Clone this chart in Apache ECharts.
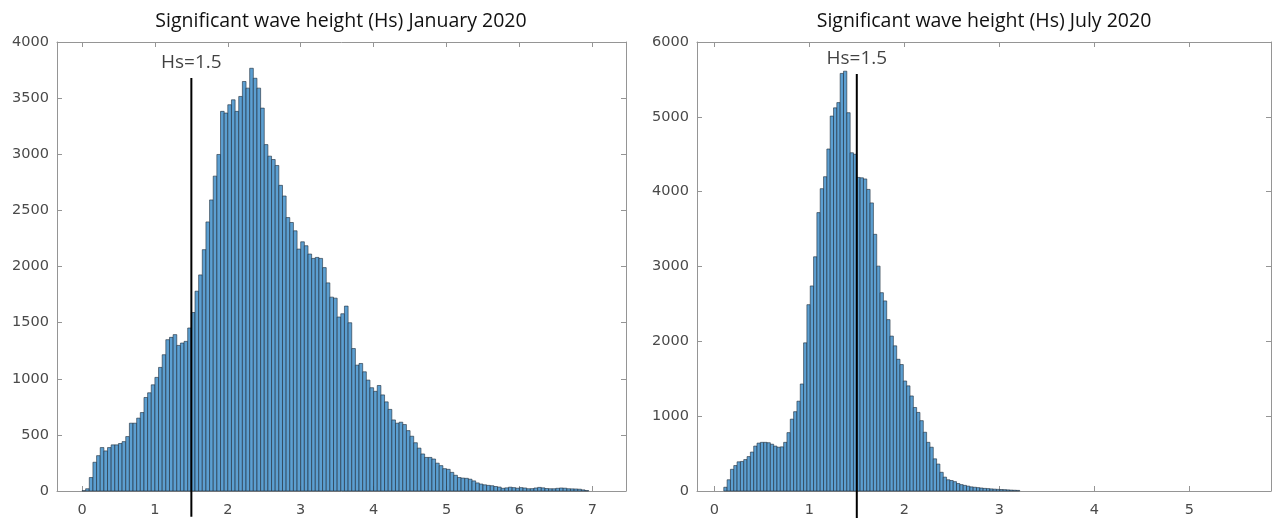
<!DOCTYPE html>
<html><head><meta charset="utf-8">
<script src="https://cdn.jsdelivr.net/npm/echarts@6/dist/echarts.min.js"></script>
<style>html,body{margin:0;padding:0;background:#fff}#c{width:1273px;height:518px}</style>
</head><body><div id="c"></div><script>
const janTitle = 'Significant wave height (Hs) January 2020';
const julTitle = 'Significant wave height (Hs) July 2020';
const hsLabel = 'Hs=1.5';
const hsValue = 1.5;

// January histogram: bins of 0.05 m starting at 0
const janBinStart = 0;
const janBinWidth = 0.05;
const janCounts = [
  3, 20, 120, 256, 315, 387, 357, 387, 411, 411,
  423, 440, 485, 604, 604, 649, 699, 833, 875, 946,
  1012, 1101, 1214, 1348, 1369, 1393, 1297, 1318, 1333, 1452,
  1590, 1780, 1925, 2150, 2397, 2593, 2805, 2998, 3382, 3367,
  3441, 3485, 3382, 3515, 3648, 3589, 3766, 3677, 3589, 3411,
  3086, 2983, 2953, 2900, 2723, 2628, 2436, 2392, 2318, 2155,
  2220, 2185, 2111, 2072, 2081, 2072, 1990, 1854, 1727, 1718,
  1550, 1579, 1647, 1499, 1269, 1121, 1136, 1062, 988, 920,
  888, 940, 856, 794, 727, 633, 604, 613, 592, 538,
  488, 430, 382, 330, 299, 299, 285, 248, 226, 199,
  193, 166, 140, 120, 115, 113, 105, 90, 72, 62,
  55, 50, 47, 40, 35, 24, 28, 34, 30, 25,
  30, 27, 20, 21, 27, 32, 28, 22, 20, 20,
  24, 27, 25, 20, 19, 18, 16, 10, 4
];
const janXTicks = [0, 1, 2, 3, 4, 5, 6, 7];
const janXRange = [-0.343, 7.462];
const janYRange = [0, 4000];
const janYStep = 500;
const janLineSpan = [-230, 3680];

// July histogram: bins of 0.035 m starting at 0.1
const julBinStart = 0.1;
const julBinWidth = 0.035;
const julCounts = [
  50, 150, 290, 340, 390, 395, 420, 460, 520, 600,
  640, 650, 650, 645, 625, 600, 585, 590, 650, 780,
  960, 1060, 1200, 1430, 1980, 2490, 2740, 3130, 3720, 4040,
  4200, 4570, 5010, 5120, 5190, 5580, 5610, 5055, 4520, 4500,
  4190, 4185, 4170, 4030, 3850, 3430, 3005, 2650, 2540, 2290,
  2070, 1940, 1760, 1690, 1470, 1405, 1270, 1116, 1050, 940,
  785, 650, 585, 430, 360, 250, 185, 150, 140, 125,
  100, 85, 75, 65, 55, 50, 45, 40, 35, 32,
  28, 25, 22, 20, 18, 15, 12, 10, 8
];
const julXTicks = [0, 1, 2, 3, 4, 5];
const julXRange = [-0.182, 5.86];
const julYRange = [0, 6000];
const julYStep = 1000;
const julLineSpan = [-360, 5573];

function toBins(start, width, counts) {
  return counts.map((c, i) => [start + i * width, start + (i + 1) * width, c]);
}

const AX = '#959595';
const LBL = { fontFamily: 'DejaVu Sans', fontSize: 14.5, color: '#4a4a4a' };

function renderBar(params, api) {
  const a = api.coord([api.value(0), api.value(2)]);
  const b = api.coord([api.value(1), 0]);
  return {
    type: 'rect',
    shape: { x: a[0], y: a[1], width: b[0] - a[0], height: b[1] - a[1] },
    style: { fill: '#5c9fd1', stroke: '#1c2a38', lineWidth: 0.6 }
  };
}

function xAxes(grid, range, ticks) {
  const base = {
    gridIndex: grid, type: 'value', min: range[0], max: range[1],
    axisLine: { show: true, onZero: false, lineStyle: { color: AX, width: 1 } },
    axisTick: { show: true, inside: true, length: 5, customValues: ticks, lineStyle: { color: AX } },
    splitLine: { show: false }
  };
  return [
    Object.assign({}, base, { position: 'bottom',
      axisLabel: Object.assign({ show: true, margin: 12, customValues: ticks, formatter: v => String(v) }, LBL) }),
    Object.assign({}, base, { position: 'top', axisLabel: { show: false } })
  ];
}
function yAxes(grid, range, step) {
  const base = {
    gridIndex: grid, type: 'value', min: range[0], max: range[1], interval: step,
    axisLine: { show: true, onZero: false, lineStyle: { color: AX, width: 1 } },
    axisTick: { show: true, inside: true, length: 5, lineStyle: { color: AX } },
    splitLine: { show: false }
  };
  return [
    Object.assign({}, base, { position: 'left',
      axisLabel: Object.assign({ show: true, margin: 8, formatter: v => String(v) }, LBL) }),
    Object.assign({}, base, { position: 'right', axisLabel: { show: false } })
  ];
}

const hsLabelStyle = { show: true, position: 'top', distance: 5, formatter: hsLabel,
  fontFamily: 'Open Sans', fontSize: 19, color: '#111' };
const titleStyle = { fontFamily: 'Open Sans', fontSize: 19.5, fontWeight: 'normal', color: '#111' };

const chart = echarts.init(document.getElementById('c'), null, { renderer: 'canvas' });
chart.setOption({
  animation: false,
  backgroundColor: '#fff',
  title: [
    { text: janTitle, left: 341, top: 11, padding: 0, textAlign: 'center', textStyle: titleStyle },
    { text: julTitle, left: 984, top: 11, padding: 0, textAlign: 'center', textStyle: titleStyle }
  ],
  grid: [
    { left: 57, right: 647, top: 42, bottom: 25, containLabel: false },
    { left: 697, right: 2, top: 42, bottom: 26.5, containLabel: false }
  ],
  xAxis: [].concat(xAxes(0, janXRange, janXTicks), xAxes(1, julXRange, julXTicks)),
  yAxis: [].concat(yAxes(0, janYRange, janYStep), yAxes(1, julYRange, julYStep)),
  series: [
    { type: 'custom', xAxisIndex: 0, yAxisIndex: 0, renderItem: renderBar,
      encode: { x: [0, 1], y: 2 }, data: toBins(janBinStart, janBinWidth, janCounts) },
    { type: 'custom', xAxisIndex: 2, yAxisIndex: 2, renderItem: renderBar,
      encode: { x: [0, 1], y: 2 }, data: toBins(julBinStart, julBinWidth, julCounts) },
    { type: 'line', xAxisIndex: 0, yAxisIndex: 0, clip: false, symbol: 'none', z: 5,
      lineStyle: { color: '#000', width: 2 },
      data: [[hsValue, janLineSpan[0]], [hsValue, janLineSpan[1]]] },
    { type: 'line', xAxisIndex: 2, yAxisIndex: 2, clip: false, symbol: 'none', z: 5,
      lineStyle: { color: '#000', width: 2 },
      data: [[hsValue, julLineSpan[0]], [hsValue, julLineSpan[1]]] },
    { type: 'scatter', xAxisIndex: 0, yAxisIndex: 0, symbolSize: 1, z: 6,
      itemStyle: { color: 'rgba(0,0,0,0)' }, label: hsLabelStyle,
      data: [[hsValue, janLineSpan[1]]] },
    { type: 'scatter', xAxisIndex: 2, yAxisIndex: 2, symbolSize: 1, z: 6,
      itemStyle: { color: 'rgba(0,0,0,0)' }, label: hsLabelStyle,
      data: [[hsValue, julLineSpan[1]]] }
  ]
});
</script></body></html>
